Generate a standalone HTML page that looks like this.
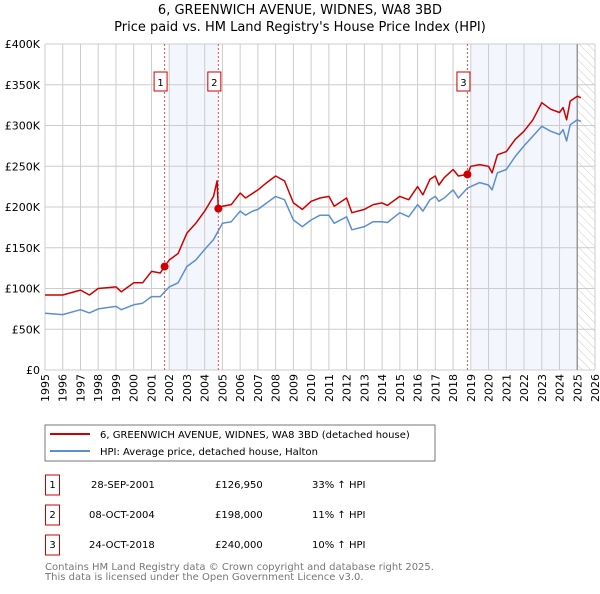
<!DOCTYPE html>
<html><head><meta charset="utf-8"><style>
body{margin:0;background:#fff;font-family:"DejaVu Sans","Liberation Sans",sans-serif;}
svg text{font-family:"DejaVu Sans","Liberation Sans",sans-serif;}
</style></head><body>
<svg id="c" width="600" height="590" xmlns="http://www.w3.org/2000/svg">
<defs><pattern id="hatch" width="6" height="6" patternUnits="userSpaceOnUse" patternTransform="rotate(-45)"><line x1="0" y1="0" x2="0" y2="6" stroke="#ccc" stroke-width="1"/></pattern></defs>
<text x="300" y="14" text-anchor="middle" font-size="13">6, GREENWICH AVENUE, WIDNES, WA8 3BD</text>
<text x="300" y="31" text-anchor="middle" font-size="13">Price paid vs. HM Land Registry's House Price Index (HPI)</text>
<g id="plot"></g>
<rect x="45" y="425" width="390" height="36" fill="#fff" stroke="#777"/>
<line x1="50" y1="434" x2="90" y2="434" stroke="#cc0000" stroke-width="2"/>
<text x="100" y="438" font-size="10">6, GREENWICH AVENUE, WIDNES, WA8 3BD (detached house)</text>
<line x1="50" y1="451" x2="90" y2="451" stroke="#5b8fd0" stroke-width="2"/>
<text x="100" y="455" font-size="10">HPI: Average price, detached house, Halton</text>
<g font-size="10">
<rect x="45.5" y="475" width="14" height="20" fill="none" stroke="#cc0000"/><text x="52.5" y="488" text-anchor="middle">1</text>
<text x="91" y="488">28-SEP-2001</text><text x="215" y="488">£126,950</text><text x="312" y="488">33% ↑ HPI</text>
<rect x="45.5" y="505" width="14" height="20" fill="none" stroke="#cc0000"/><text x="52.5" y="518" text-anchor="middle">2</text>
<text x="89" y="518">08-OCT-2004</text><text x="215" y="518">£198,000</text><text x="312" y="518">11% ↑ HPI</text>
<rect x="45.5" y="535" width="14" height="20" fill="none" stroke="#cc0000"/><text x="52.5" y="548" text-anchor="middle">3</text>
<text x="89" y="548">24-OCT-2018</text><text x="215" y="548">£240,000</text><text x="312" y="548">10% ↑ HPI</text>
</g>
<text x="45" y="570" font-size="10" fill="#777">Contains HM Land Registry data © Crown copyright and database right 2025.</text>
<text x="45" y="580" font-size="10" fill="#777">This data is licensed under the Open Government Licence v3.0.</text>
</svg>
<script>
const yTicks=[0,50000,100000,150000,200000,250000,300000,350000,400000];
const yTickLabels=["£0","£50K","£100K","£150K","£200K","£250K","£300K","£350K","£400K"];
const xYears=[1995,1996,1997,1998,1999,2000,2001,2002,2003,2004,2005,2006,2007,2008,2009,2010,2011,2012,2013,2014,2015,2016,2017,2018,2019,2020,2021,2022,2023,2024,2025,2026];
const hpiT=[1995,1996,1997,1997.5,1998,1999,1999.3,2000,2000.5,2001,2001.5,2002,2002.5,2003,2003.5,2004,2004.5,2005,2005.5,2006,2006.3,2006.7,2007,2007.5,2008,2008.5,2009,2009.5,2010,2010.5,2011,2011.3,2012,2012.3,2013,2013.5,2014,2014.3,2015,2015.5,2016,2016.3,2016.7,2017,2017.2,2017.5,2018,2018.3,2018.8,2019,2019.5,2020,2020.2,2020.5,2021,2021.5,2022,2022.5,2023,2023.5,2024,2024.2,2024.4,2024.6,2025,2025.2];
const hpiV=[69700,68000,74000,70000,75000,78000,74000,80000,82000,90000,90000,102000,107000,127000,135000,148000,160000,180000,182000,195000,190000,195000,197000,205000,213000,209000,184000,176000,184000,190000,190000,180000,188000,172000,176000,182000,182000,181000,193000,188000,203000,195000,209000,213000,207000,211000,221000,211000,223000,225000,230000,227000,221000,242000,246000,262000,275000,287000,299000,293000,289000,295000,281000,301000,307000,305000];
const propT=[1995,1996,1997,1997.5,1998,1999,1999.3,2000,2000.5,2001,2001.5,2001.74,2002,2002.5,2003,2003.5,2004,2004.5,2004.7,2004.77,2005,2005.5,2006,2006.3,2007,2007.5,2008,2008.5,2009,2009.5,2010,2010.5,2011,2011.3,2012,2012.3,2013,2013.5,2014,2014.3,2015,2015.5,2016,2016.3,2016.7,2017,2017.2,2017.5,2018,2018.3,2018.81,2019,2019.5,2020,2020.2,2020.5,2021,2021.5,2022,2022.5,2023,2023.5,2024,2024.2,2024.4,2024.6,2025,2025.2];
const propV=[92000,92000,98000,92000,100000,102000,96000,107000,107000,121000,119000,126950,135000,143000,168000,180000,195000,213000,232000,198000,201000,203000,217000,211000,221000,230000,238000,232000,205000,197000,207000,211000,213000,201000,211000,193000,197000,203000,205000,202000,213000,209000,225000,215000,234000,238000,227000,236000,246000,238000,240000,250000,252000,250000,242000,264000,268000,283000,293000,307000,328000,320000,316000,322000,307000,330000,336000,334000];
const saleT=[2001.74,2004.77,2018.81];
const saleV=[126950,198000,240000];
const saleLabels=["1","2","3"];
const shadeStart=[2002,2019];
const shadeEnd=[2004.77,2025];

const X0=45,X1=595,Y0=370,Y1=44;
const x=t=>X0+(t-1995)/(2026-1995)*(X1-X0);
const y=v=>Y0-v/400000*(Y0-Y1);
const NS="http://www.w3.org/2000/svg";
const g=document.getElementById('plot');
function mk(tag,at){const e=document.createElementNS(NS,tag);for(const k in at)e.setAttribute(k,at[k]);g.appendChild(e);return e;}
for(let i=0;i<shadeStart.length;i++){
  const r=mk('rect',{x:x(shadeStart[i]),y:Y1,width:x(shadeEnd[i])-x(shadeStart[i]),height:Y0-Y1,fill:'#f3f6fd'});
  
  
}
const h=mk('rect',{x:x(2025),y:Y1,width:X1-x(2025),height:Y0-Y1,fill:'url(#hatch)'});


yTicks.forEach((v,i)=>{
  const l=mk('line',{x1:X0,x2:X1,y1:y(v),y2:y(v),stroke:'#ccc','stroke-width':1});
  
  
  const t=mk('text',{x:40,y:y(v)+4,'text-anchor':'end','font-size':11});
  t.textContent=yTickLabels[i];
  
  
});
xYears.forEach(yr=>{
  const l=mk('line',{x1:x(yr),x2:x(yr),y1:Y1,y2:Y0,stroke:'#ccc','stroke-width':1});
  
  
  const t=mk('text',{x:0,y:0,'text-anchor':'end','font-size':11,transform:`translate(${x(yr)+4},374) rotate(-90)`});
  t.textContent=yr;
  
  
});
const vl=mk('line',{x1:x(2025),x2:x(2025),y1:Y1,y2:Y0,stroke:'#999','stroke-width':1.5});


saleT.forEach((t,i)=>{
  const l=mk('line',{x1:x(t),x2:x(t),y1:Y1,y2:Y0,stroke:'#e05050','stroke-width':1,'stroke-dasharray':'2,2'});
  
  
});
function path(T,V,col,name){
  const d=T.map((t,i)=>(i?'L':'M')+x(t).toFixed(1)+','+y(V[i]).toFixed(1)).join('');
  const p=mk('path',{d:d,fill:'none',stroke:col,'stroke-width':1.5,'stroke-linejoin':'round'});
  
  
}
path(hpiT,hpiV,'#5b8fd0','hpi-line');
path(propT,propV,'#cc0000','property-line');
saleT.forEach((t,i)=>{
  const c=mk('circle',{cx:x(t),cy:y(saleV[i]),r:4,fill:'#cc0000'});
  
  
  const bx=mk('rect',{x:x(t)-10.5,y:72,width:13,height:19,fill:'#fff',stroke:'#cc0000'});
  
  
  const tx=mk('text',{x:x(t)-4,y:86,'text-anchor':'middle','font-size':10});
  tx.textContent=saleLabels[i];
  
  
});
</script>
</body></html>
